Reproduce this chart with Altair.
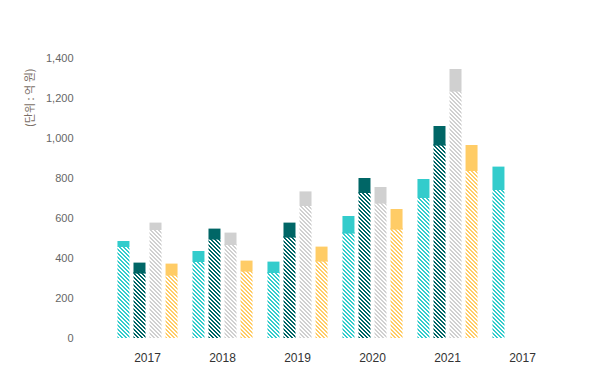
import altair as alt
import pandas as pd

# ---- data ----
groups = ["2017", "2018", "2019", "2020", "2021", "2017b"]
group_labels = ["2017", "2018", "2019", "2020", "2021", "2017"]
series = ["A", "B", "C", "D"]
colors = ["#33CCCC", "#006666", "#D0D0D0", "#FFCC66"]

total_a = [485, 435, 382, 610, 795, 857]
hatch_a = [455, 380, 325, 522, 700, 740]
total_b = [377, 547, 577, 800, 1060]
hatch_b = [322, 492, 502, 725, 962]
total_c = [577, 527, 733, 755, 1345]
hatch_c = [540, 465, 660, 672, 1232]
total_d = [372, 387, 457, 645, 965]
hatch_d = [312, 332, 382, 542, 835]

y_ticks = [0, 200, 400, 600, 800, 1000, 1200, 1400]
y_title = "(단위 : 억 원)"

# ---- layout ----
W_PLOT, H_PLOT = 500, 280
Y_MAX = 1400
BAR_W = 12
PERIOD = 4           # hatch period in px
SEG = 20             # hatch tile height in data units (4 px)

rows = []
for s, tots, hats in zip(series, [total_a, total_b, total_c, total_d],
                         [hatch_a, hatch_b, hatch_c, hatch_d]):
    for g, t, h in zip(groups, tots, hats):
        rows.append({"group": g, "series": s, "total": t, "hatch": h})
df = pd.DataFrame(rows)

# hatched part split into equal tiles so the diagonal pattern stays crisp
tiles = []
for _, r in df.iterrows():
    k = 0
    while k * SEG < r["hatch"]:
        tiles.append({"group": r["group"], "series": r["series"],
                      "lo": k * SEG, "hi": (k + 1) * SEG})
        k += 1
tiles = pd.DataFrame(tiles)

label_expr = " : ".join(
    f"datum.value == '{g}' ? '{l}'" for g, l in zip(groups, group_labels)
) + " : datum.label"

x_enc = alt.X("group:N", sort=groups,
              scale=alt.Scale(domain=groups, paddingInner=0, paddingOuter=1/3),
              axis=alt.Axis(title=None, domain=False, ticks=False, labelAngle=0,
                            labelExpr=label_expr, labelFont="Liberation Sans",
                            labelFontSize=12, labelColor="#333333", labelPadding=14))
xo_enc = alt.XOffset("series:N", sort=series,
                     scale=alt.Scale(domain=series, paddingInner=0, paddingOuter=0.34))
y_scale = alt.Scale(domain=[0, Y_MAX], nice=False, zero=True)
y_axis = alt.Axis(values=y_ticks, format=",d", domain=False, ticks=False, grid=False,
                  labelFont="Liberation Sans", labelFontSize=11, labelColor="#666666",
                  labelPadding=12,
                  title=y_title, titleFont="Noto Sans CJK KR", titleFontSize=11,
                  titleFontWeight="normal", titleColor="#7a6e66",
                  titleAngle=-90, titleAlign="right", titleBaseline="middle",
                  titleX=-55, titleY=10)


def hatch_gradient(color, W, H, period=PERIOD, frac=0.45):
    lam = (W + H) / (W * W + H * H)
    n = max(1, round((W + H) / period))
    stops = []
    for k in range(n):
        a = round(k / n, 6)
        b = round((k + frac) / n, 6)
        c = round((k + 1) / n, 6)
        stops += [alt.GradientStop(color=color, offset=a),
                  alt.GradientStop(color=color, offset=b),
                  alt.GradientStop(color="#ffffff", offset=b),
                  alt.GradientStop(color="#ffffff", offset=c)]
    return alt.Gradient(gradient="linear", stops=stops,
                        x1=0, y1=1, x2=lam * W, y2=1 - lam * H)


tile_h = SEG / Y_MAX * H_PLOT
layers = []
for s, col in zip(series, colors):
    layers.append(
        alt.Chart(tiles).transform_filter(alt.datum.series == s)
        .mark_bar(width=BAR_W, color=hatch_gradient(col, BAR_W, tile_h))
        .encode(x=x_enc, xOffset=xo_enc,
                y=alt.Y("lo:Q", scale=y_scale, axis=y_axis), y2="hi:Q")
    )

solid = alt.Chart(df).mark_bar(width=BAR_W).encode(
    x=x_enc,
    xOffset=xo_enc,
    y=alt.Y("hatch:Q", scale=y_scale, axis=y_axis),
    y2="total:Q",
    color=alt.Color("series:N", scale=alt.Scale(domain=series, range=colors), legend=None),
)

chart = alt.layer(*layers, solid).properties(
    width=W_PLOT, height=H_PLOT,
    autosize=alt.AutoSizeParams(type="none"),
    padding={"left": 77, "top": 50, "right": 7, "bottom": 32},
).configure_view(stroke=None)

chart.save("out.html", embed_options={"renderer": "svg", "actions": False})
